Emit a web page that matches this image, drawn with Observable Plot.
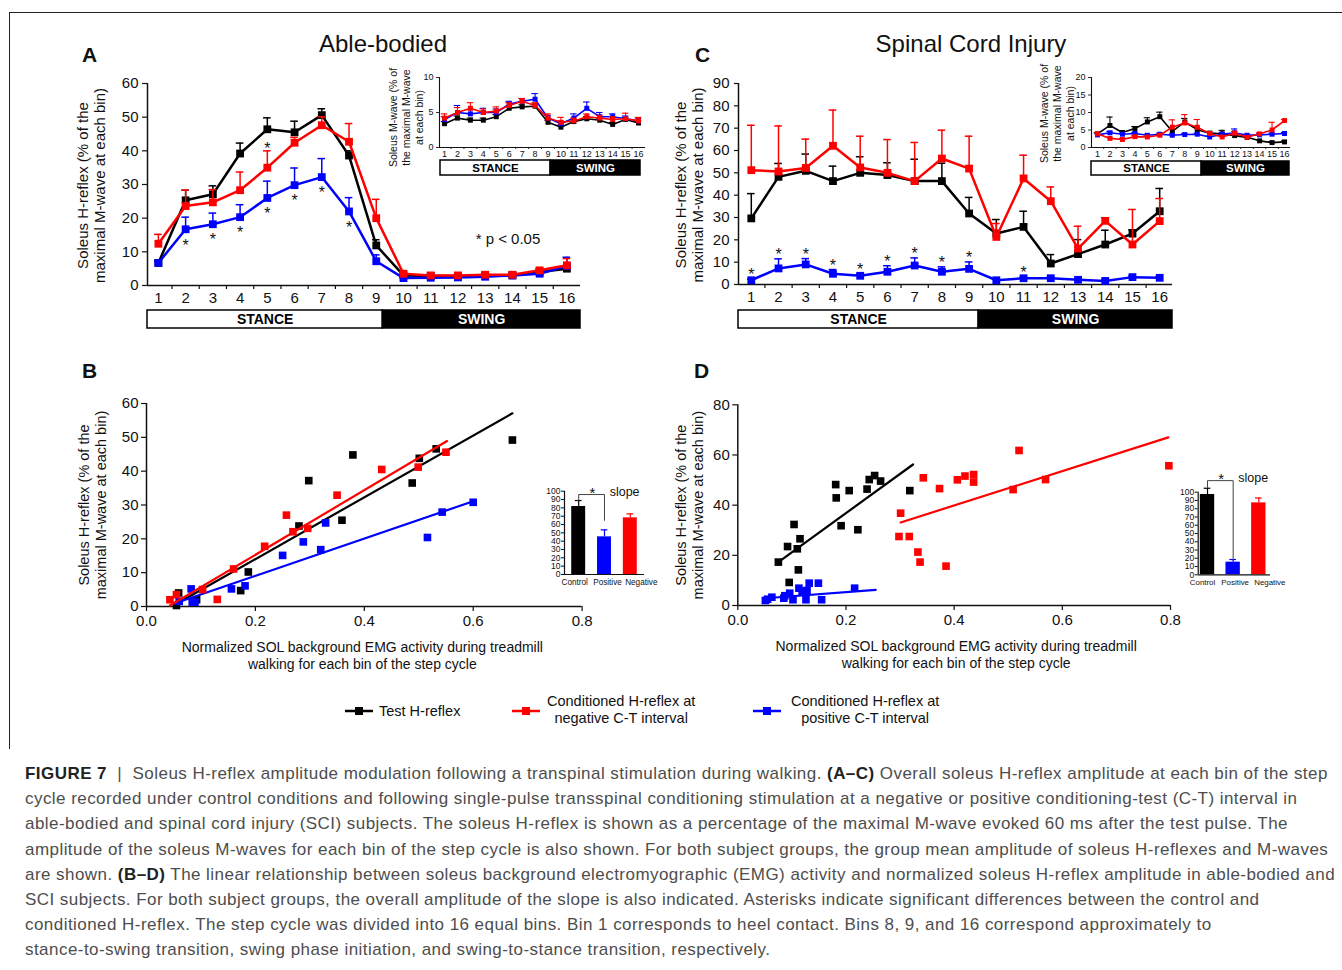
<!DOCTYPE html>
<html><head><meta charset="utf-8">
<script src="https://cdn.jsdelivr.net/npm/d3@7"></script>
<script src="https://cdn.jsdelivr.net/npm/@observablehq/plot@0.6"></script>
<style>
body{margin:0;background:#fff;}
#root{position:relative;width:1342px;height:970px;overflow:hidden;font-family:"Liberation Sans",Arial,Helvetica,sans-serif;color:#111;background:#fff;}
.title{position:absolute;font-size:24px;line-height:28px;text-align:center;width:300px;}
.letter{position:absolute;font-size:21px;font-weight:bold;line-height:24px;}
.leg{position:absolute;font-size:14.5px;line-height:17px;color:#111;}
#cap{position:absolute;left:25px;top:761px;font-size:17px;letter-spacing:0.45px;line-height:25.2px;color:#4d4d4d;white-space:nowrap;}
#cap b{color:#222;}
#frame{position:absolute;left:9px;top:12px;width:1340px;height:736px;border-top:1.5px solid #222;border-left:1.5px solid #222;}
</style></head>
<body><div id="root"><div id="frame"></div></div>
<script>
// ---------------- DATA ----------------
const bins = [1,2,3,4,5,6,7,8,9,10,11,12,13,14,15,16];
const phaseNames = ["STANCE","SWING"];

// Panel A: able-bodied H-reflex (% of max M-wave), mean and SEM
const abTest    = [6.7,25.3,27.1,39.2,46.4,45.5,50.6,38.6,11.9,3.0,2.8,2.8,3.0,3.0,4.0,5.0];
const abTestSem = [0.6,3.0,2.5,3.1,3.4,3.3,1.9,1.4,1.7,0.4,0.3,0.3,0.3,0.4,0.5,0.6];
const abNeg     = [12.4,23.6,24.7,28.3,35.0,42.4,47.6,42.7,20.0,3.5,3.0,3.0,3.2,3.2,4.5,6.0];
const abNegSem  = [2.8,4.7,3.8,5.4,5.0,1.6,2.5,5.4,5.6,0.4,0.3,0.3,0.3,0.3,0.6,2.0];
const abPos     = [6.7,16.7,18.2,20.3,26.0,29.8,32.2,22.0,7.2,2.2,2.3,2.4,2.6,3.0,3.5,5.8];
const abPosSem  = [0.4,3.6,3.3,3.7,5.0,5.1,5.5,4.1,1.9,0.3,0.3,0.3,0.3,0.3,0.5,2.6];
const abSigPos  = [2,3,4,5,6,7,8];
const abSigNeg  = [5];

// Panel A inset: M-wave
const abTestM    = [3.4,4.2,3.9,3.9,4.4,5.6,5.8,5.9,3.6,2.9,3.7,4.1,3.9,3.3,4.0,3.5];
const abTestMSem = [0.3,0.3,0.3,0.3,0.3,0.3,0.3,0.3,0.3,0.3,0.3,0.3,0.3,0.3,0.3,0.3];
const abNegM     = [4.2,5.0,5.6,5.0,5.2,6.0,6.6,6.0,4.2,3.6,3.8,4.4,4.2,4.0,4.1,3.8];
const abNegMSem  = [0.6,0.7,0.8,0.5,0.6,0.4,0.4,0.4,0.6,0.7,0.4,0.4,0.4,0.4,0.8,0.5];
const abPosM     = [4.0,5.0,4.8,5.0,5.0,6.2,6.6,6.9,4.2,3.4,4.2,5.6,4.4,4.4,4.1,3.8];
const abPosMSem  = [0.4,1.0,0.6,0.6,0.5,0.4,0.4,0.8,0.4,0.4,0.6,0.9,0.6,0.4,0.4,0.4];

// Panel C: SCI H-reflex
const sciTest    = [29.6,48.2,50.9,46.3,50.0,49.0,46.3,46.3,31.8,22.8,25.8,9.4,13.6,17.9,22.8,32.8];
const sciTestSem = [11.1,6.0,7.5,6.7,7.2,5.5,9.8,8.0,7.2,6.3,7.0,4.0,6.5,6.4,1.7,10.2];
const sciNeg     = [51.2,50.6,52.2,62.1,52.4,50.0,46.3,56.4,51.9,21.3,47.5,37.3,16.1,28.5,17.9,28.4];
const sciNegSem  = [20.1,20.4,12.9,16.0,14.0,14.9,17.3,12.7,14.5,6.0,10.4,6.4,10.0,1.4,15.7,10.1];
const sciPos     = [1.9,7.2,9.0,4.8,3.9,5.7,8.5,5.7,7.0,1.9,2.8,2.8,2.1,1.6,3.3,3.0];
const sciPosSem  = [0.5,4.3,2.6,1.9,0.8,2.7,3.4,2.2,3.1,0.4,0.5,0.5,0.4,0.4,0.5,0.5];
const sciSigPos  = [1,2,3,4,5,6,7,8,9,11];

// Panel C inset: M-wave
const sciTestM    = [3.9,6.3,4.3,5.4,7.3,8.8,4.6,7.3,5.1,4.1,3.9,3.4,2.9,1.9,1.4,1.6];
const sciTestMSem = [0.4,2.4,0.5,0.6,1.2,1.3,0.6,1.0,0.8,0.5,1.0,0.5,0.4,0.3,0.3,0.3];
const sciPosM     = [3.6,4.2,3.8,4.0,3.5,3.8,3.5,3.7,3.8,3.0,3.8,4.2,3.5,3.6,3.8,4.0];
const sciPosMSem  = [0.3,0.4,0.3,0.3,0.3,0.3,0.3,0.3,0.3,0.3,0.4,1.1,0.3,0.3,0.3,0.3];
const sciNegM     = [3.9,2.6,2.3,3.1,3.0,3.5,5.8,7.0,5.8,4.0,3.0,4.1,2.9,3.9,5.0,7.7];
const sciNegMSem  = [0.3,0.3,0.3,0.3,0.3,0.3,2.1,2.4,2.2,0.4,0.3,0.5,0.3,0.3,2.2,0.3];

// bin at which swing begins on each stance/swing bar
const swingStartA = 9.24, swingStartC = 9.35, swingStartInsetA = 9.38, swingStartInsetC = 9.4;

// Panel B scatter (able-bodied)
const bTestX = [0.055,0.059,0.092,0.173,0.187,0.280,0.298,0.359,0.379,0.488,0.501,0.532,0.672];
const bTestY = [0.3,4.0,2.0,4.7,10.2,23.8,37.2,25.5,44.8,36.5,43.8,46.6,49.2];
const bNegX  = [0.043,0.055,0.103,0.130,0.160,0.217,0.257,0.269,0.296,0.350,0.432,0.499,0.550];
const bNegY  = [2.0,3.5,5.0,2.1,11.1,17.8,27.0,22.1,23.1,32.9,40.5,41.2,45.6];
const bPosX  = [0.060,0.082,0.084,0.089,0.156,0.181,0.250,0.288,0.320,0.329,0.516,0.543,0.600];
const bPosY  = [1.5,5.2,1.3,1.3,5.2,6.1,15.1,19.1,16.8,24.7,20.4,27.9,30.8];
const bTestFitX = [0.052,0.672], bTestFitY = [0.5,57.1];
const bNegFitX  = [0.043,0.552], bNegFitY  = [0.3,48.9];
const bPosFitX  = [0.050,0.600], bPosFitY  = [0.8,31.1];

// Panel D scatter (SCI)
const dTestX = [0.075,0.092,0.104,0.110,0.115,0.112,0.095,0.181,0.182,0.191,0.206,0.222,0.239,0.243,0.253,0.264,0.318];
const dTestY = [17.3,23.5,32.3,22.6,26.6,14.2,9.2,48.2,42.9,31.8,45.8,30.2,46.4,50.2,51.8,49.6,45.8];
const dNegX  = [0.298,0.301,0.317,0.333,0.337,0.343,0.373,0.385,0.406,0.420,0.436,0.436,0.509,0.520,0.569,0.797];
const dNegY  = [27.5,36.8,27.5,21.3,17.3,50.9,46.6,15.7,50.1,51.6,52.2,49.2,46.2,61.8,50.2,55.7];
const dPosX  = [0.051,0.055,0.063,0.085,0.087,0.096,0.102,0.113,0.119,0.126,0.128,0.126,0.132,0.149,0.155,0.216];
const dPosY  = [2.0,2.5,3.3,2.9,3.9,4.9,2.3,6.9,5.7,5.2,6.0,2.3,8.9,8.9,2.3,6.9];
const dTestFitX = [0.075,0.324], dTestFitY = [17.3,56.2];
const dNegFitX  = [0.301,0.796], dNegFitY  = [33.1,67.0];
const dPosFitX  = [0.051,0.255], dPosFitY  = [2.9,6.2];

// slope bar insets
const slopeCats = ["Control","Positive","Negative"];
const bSlope = [81.6,45.2,68.0], bSlopeSem = [7.2,8.4,4.8];
const dSlope = [97.2,15.3,87.1], dSlopeSem = [7.6,3.2,5.9];

// ---------------- HELPERS ----------------
const BLACK = "#000000", RED = "#ff0000", BLUE = "#0000ff";
const slopeColors = [BLACK, BLUE, RED];
const FONT = "'Liberation Sans', Arial, Helvetica, sans-serif";
const root = document.getElementById("root");
function put(node, left, top){ node.style.position="absolute"; node.style.left=left+"px"; node.style.top=top+"px"; root.appendChild(node); return node; }
function sty(fs){ return {fontFamily:FONT, fontSize:fs+"px", color:"#111", background:"none", overflow:"visible"}; }
const rowsOf = (v,e) => bins.map((b,i)=>({bin:b, v:v[i], e:e[i]}));
const ptsOf = (xs,ys) => xs.map((x,i)=>({x, y:ys[i]}));
const halfBins = bins.slice(1).map(b=>b-0.5);

function seriesMarks(rows, color, o){
  return [
    Plot.ruleX(rows,{x:"bin", y1:"v", y2:d=>d.v+d.e, stroke:color, strokeWidth:o.ew}),
    Plot.ruleY(rows,{y:d=>d.v+d.e, x1:d=>d.bin-o.cap, x2:d=>d.bin+o.cap, stroke:color, strokeWidth:o.ew}),
    Plot.line(rows,{x:"bin", y:"v", stroke:color, strokeWidth:o.lw}),
    Plot.dot(rows,{x:"bin", y:"v", symbol:"square", r:o.r, fill:color})
  ];
}

function yLabel(text, dx, dy, fs, lh){
  return Plot.text([text],{frameAnchor:"left", textAnchor:"middle", lineAnchor:"middle", dx, dy, rotate:-90, text:d=>d, fontSize:fs, lineHeight:lh});
}

function binChart(c){
  const marks = [
    Plot.ruleY([c.ydom[0]],{strokeWidth:c.axw}),
    Plot.ruleX([c.xdom[0]],{strokeWidth:c.axw}),
    Plot.axisY({ticks:c.yticks, tickSize:c.tsz, tickPadding:c.tpy, tickFormat:d=>d, strokeWidth:c.axw*0.8, label:null}),
    Plot.axisX({ticks:halfBins, tickSize:c.htsz, tickFormat:()=>"", strokeWidth:c.axw*0.8, label:null}),
    Plot.axisX({ticks:bins, tickSize:0, tickPadding:c.tpx, tickFormat:d=>d, label:null}),
    yLabel(c.ylabel, c.ldx, c.ldy||0, c.lfs, c.llh),
    ...c.series.flatMap(s=>seriesMarks(rowsOf(s.v,s.e), s.color, c.sm)),
    ...(c.extra||[])
  ];
  return Plot.plot({width:c.w, height:c.h, marginLeft:c.ml, marginRight:c.mr, marginTop:c.mt, marginBottom:c.mb,
    x:{domain:c.xdom}, y:{domain:c.ydom}, style:sty(c.fs), marks});
}

function phaseBar(c){
  const rows = [{name:phaseNames[0], x1:c.xdom[0], x2:c.split},{name:phaseNames[1], x1:c.split, x2:c.xdom[1]}];
  return Plot.plot({width:c.w, height:c.h, marginLeft:c.ml, marginRight:c.mr, marginTop:1, marginBottom:1,
    x:{domain:c.xdom, axis:null}, y:{domain:[0,1], axis:null}, style:sty(c.fs),
    marks:[
      Plot.rect(rows.slice(0,1),{x1:"x1", x2:"x2", y1:0, y2:1, fill:"white", stroke:"black", strokeWidth:1.5}),
      Plot.rect(rows.slice(1),{x1:"x1", x2:"x2", y1:0, y2:1, fill:"black", stroke:"black", strokeWidth:1.5}),
      Plot.text(rows.slice(0,1),{x:d=>(d.x1+d.x2)/2, y:0.5, text:"name", fill:"black", fontWeight:"bold"}),
      Plot.text(rows.slice(1),{x:d=>(d.x1+d.x2)/2, y:0.5, text:"name", fill:"white", fontWeight:"bold"})
    ]});
}

function scatter(c){
  const marks = [
    Plot.ruleY([0],{strokeWidth:1.5}),
    Plot.ruleX([0],{strokeWidth:1.5}),
    Plot.axisY({ticks:c.yticks, tickSize:5, tickPadding:3, tickFormat:d=>d, strokeWidth:1.2, label:null}),
    Plot.axisX({ticks:[0,0.2,0.4,0.6,0.8], tickSize:5, tickPadding:4, tickFormat:d3.format(".1f"), strokeWidth:1.2, label:null}),
    yLabel(c.ylabel, c.ldx, 0, 14.5, 1.15),
    Plot.text([c.xlabel],{frameAnchor:"bottom", textAnchor:"middle", lineAnchor:"middle", dx:c.xldx, dy:48.5, text:d=>d, fontSize:14, lineHeight:1.2}),
    ...c.series.flatMap(s=>[
      Plot.line(ptsOf(s.fx,s.fy),{x:"x", y:"y", stroke:s.color, strokeWidth:2.2}),
      Plot.dot(ptsOf(s.x,s.y),{x:"x", y:"y", symbol:"square", r:4.3, fill:s.color})
    ])
  ];
  return Plot.plot({width:c.w, height:c.h, marginLeft:c.ml, marginRight:c.mr, marginTop:c.mt, marginBottom:c.mb,
    x:{domain:[0,0.8]}, y:{domain:c.ydom}, style:sty(15), marks});
}

function slopeBars(c){
  const rows = slopeCats.map((k,i)=>({k, i:i+1, v:c.v[i], e:c.e[i], color:slopeColors[i]}));
  const hw = c.hw;
  return Plot.plot({width:c.w, height:c.h, marginLeft:c.ml, marginRight:c.mr, marginTop:c.mt, marginBottom:c.mb,
    x:{domain:c.xdom, axis:null}, y:{domain:[0,100]}, style:sty(8.5),
    marks:[
      ...rows.map(r=>Plot.rectY([r],{x1:d=>d.i-hw, x2:d=>d.i+hw, y1:0, y2:"v", fill:r.color})),
      ...rows.map(r=>Plot.ruleX([r],{x:"i", y1:"v", y2:d=>d.v+d.e, stroke:r.color, strokeWidth:1.2})),
      ...rows.map(r=>Plot.ruleY([r],{y:d=>d.v+d.e, x1:d=>d.i-0.13, x2:d=>d.i+0.13, stroke:r.color, strokeWidth:1.2})),
      Plot.ruleY([0],{strokeWidth:1.2}),
      Plot.ruleX([c.xdom[0]],{strokeWidth:1.2}),
      Plot.axisY({ticks:[0,10,20,30,40,50,60,70,80,90,100], tickSize:3, tickPadding:1, tickFormat:d=>d, fontSize:8.5, label:null}),
      ...rows.map((r,j)=>Plot.text([r],{x:"i", y:0, text:"k", dy:c.labdy, dx:c.labdx[j], fontSize:c.labfs, lineAnchor:"top"})),
      Plot.line(c.bracket,{x:"i", y:"v", stroke:"#444", strokeWidth:1}),
      Plot.text(["*"],{x:1.53, y:c.bracket[1].v+7, text:d=>d, fontSize:15, dy:4}),
      Plot.text(["slope"],{x:2.2, y:c.bracket[1].v+3, text:d=>d, fontSize:12.5, textAnchor:"start"})
    ]});
}

// ---------------- PANEL A ----------------
const sm = {ew:1.5, cap:0.14, lw:2.5, r:4.4};
const smi = {ew:1.1, cap:0.25, lw:1.6, r:2.8};
const hLabel = "Soleus H-reflex (% of the\nmaximal M-wave at each bin)";
const mLabel = "Soleus M-wave (% of\nthe maximal M-wave\nat each bin)";

const abPosRows = rowsOf(abPos, abPosSem), abNegRows = rowsOf(abNeg, abNegSem);
put(binChart({w:530, h:237, ml:87, mr:10, mt:10, mb:25, xdom:[0.6,16.5], ydom:[0,60], yticks:[0,10,20,30,40,50,60],
  tsz:5, tpy:4, htsz:4, tpx:7, axw:1.5, fs:15, ldx:-56, ldy:1, lfs:15, llh:1.13, ylabel:hLabel, sm,
  series:[{v:abTest,e:abTestSem,color:BLACK},{v:abPos,e:abPosSem,color:BLUE},{v:abNeg,e:abNegSem,color:RED}],
  extra:[
    Plot.text(abPosRows.filter(d=>abSigPos.includes(d.bin)),{x:"bin", y:d=>d.v-3.6, text:d=>"*", fontSize:16, dy:4}),
    Plot.text(abNegRows.filter(d=>abSigNeg.includes(d.bin)),{x:"bin", y:d=>d.v+d.e+1.7, text:d=>"*", fontSize:16, dy:4}),
    Plot.text(["* p < 0.05"],{x:12.65, y:13.9, text:d=>d, textAnchor:"start", fontSize:15})
  ]}), 60, 73);
put(phaseBar({w:530, h:20, ml:87, mr:10, xdom:[0.6,16.5], split:swingStartA, fs:14}), 60, 309);

// inset A
put(binChart({w:268, h:95, ml:59, mr:3, mt:9, mb:16, xdom:[0.61,16.54], ydom:[0,10], yticks:[0,5,10],
  tsz:3, tpy:3, htsz:2, tpx:3, axw:1.1, fs:9, ldx:-34, ldy:5, lfs:10.5, llh:1.25, ylabel:mLabel, sm:smi,
  series:[{v:abTestM,e:abTestMSem,color:BLACK},{v:abPosM,e:abPosMSem,color:BLUE},{v:abNegM,e:abNegMSem,color:RED}]}), 380, 68);
put(phaseBar({w:268, h:17, ml:60, mr:8, xdom:[0.61,16.54], split:swingStartInsetA, fs:11.5}), 380, 159);

// ---------------- PANEL C ----------------
const sciPosRows = rowsOf(sciPos, sciPosSem);
put(binChart({w:530, h:237, ml:88, mr:8, mt:10, mb:26, xdom:[0.53,16.47], ydom:[0,90], yticks:[0,10,20,30,40,50,60,70,80,90],
  tsz:4, tpy:5, htsz:4, tpx:7, axw:1.5, fs:15, ldx:-49.5, ldy:1, lfs:15, llh:1.13, ylabel:hLabel, sm,
  series:[{v:sciTest,e:sciTestSem,color:BLACK},{v:sciPos,e:sciPosSem,color:BLUE},{v:sciNeg,e:sciNegSem,color:RED}],
  extra:[
    Plot.text(sciPosRows.filter(d=>sciSigPos.includes(d.bin)),{x:"bin", y:d=>d.v+d.e+3.6, text:d=>"*", fontSize:16, dy:4})
  ]}), 650, 73);
put(phaseBar({w:530, h:20, ml:88, mr:8, xdom:[0.53,16.47], split:swingStartC, fs:14}), 650, 309);

// inset C
put(binChart({w:265, h:95, ml:61, mr:5, mt:9, mb:16, xdom:[0.52,16.48], ydom:[0,20], yticks:[0,5,10,15,20],
  tsz:3, tpy:3, htsz:2, tpx:3, axw:1.1, fs:9, ldx:-35, ldy:1, lfs:10.5, llh:1.25, ylabel:mLabel, sm:smi,
  series:[{v:sciTestM,e:sciTestMSem,color:BLACK},{v:sciPosM,e:sciPosMSem,color:BLUE},{v:sciNegM,e:sciNegMSem,color:RED}]}), 1030, 68);
put(phaseBar({w:265, h:16, ml:61, mr:6, xdom:[0.52,16.48], split:swingStartInsetC, fs:11.5}), 1030, 160);

// ---------------- PANEL B ----------------
const xLabel = "Normalized SOL background EMG activity during treadmill\nwalking for each bin of the step cycle";
put(scatter({w:530, h:279, ml:86, mr:8.4, mt:10, mb:66, ydom:[0,60], yticks:[0,10,20,30,40,50,60],
  ldx:-54.5, xldx:-2, ylabel:hLabel, xlabel:xLabel,
  series:[
    {x:bTestX,y:bTestY,fx:bTestFitX,fy:bTestFitY,color:BLACK},
    {x:bPosX,y:bPosY,fx:bPosFitX,fy:bPosFitY,color:BLUE},
    {x:bNegX,y:bNegY,fx:bNegFitX,fy:bNegFitY,color:RED}
  ]}), 60, 393);
put(slopeBars({w:120, h:115, ml:34, mr:6, mt:10.7, mb:21, xdom:[0.45,3.55], hw:0.27, v:bSlope, e:bSlopeSem,
  labdy:5, labdx:[-4,3,11], labfs:8.2,
  bracket:[{i:1,v:89},{i:1,v:96},{i:2,v:96},{i:2,v:65}]}), 530, 480);

// ---------------- PANEL D ----------------
put(scatter({w:530, h:280, ml:87.3, mr:10, mt:10.3, mb:69, ydom:[0,80], yticks:[0,20,40,60,80],
  ldx:-48.8, xldx:2, ylabel:hLabel, xlabel:xLabel,
  series:[
    {x:dTestX,y:dTestY,fx:dTestFitX,fy:dTestFitY,color:BLACK},
    {x:dPosX,y:dPosY,fx:dPosFitX,fy:dPosFitY,color:BLUE},
    {x:dNegX,y:dNegY,fx:dNegFitX,fy:dNegFitY,color:RED}
  ]}), 650, 394);
put(slopeBars({w:120, h:130, ml:37.7, mr:10, mt:26.7, mb:20.7, xdom:[0.637,3.456], hw:0.28, v:dSlope, e:dSlopeSem,
  labdy:5, labdx:[-5,2,11], labfs:7.9,
  bracket:[{i:1,v:106},{i:1,v:114},{i:2,v:114},{i:2,v:18}]}), 1160, 465);

// ---------------- TEXT ----------------
function div(cls, html, left, top){ const d=document.createElement("div"); d.className=cls; d.innerHTML=html; return put(d,left,top); }
div("title","Able-bodied",233,30);
div("title","Spinal Cord Injury",821,30);
div("letter","A",82,43);
div("letter","C",695,43);
div("letter","B",82,359);
div("letter","D",694,359);

function legMarker(color, left, top){
  const s = `<svg width="28" height="10"><line x1="0" y1="5" x2="28" y2="5" stroke="${color}" stroke-width="2.5"/><rect x="10" y="1" width="8" height="8" fill="${color}"/></svg>`;
  const d=document.createElement("div"); d.innerHTML=s; d.style.lineHeight="0"; return put(d,left,top);
}
legMarker(BLACK,345,706);
div("leg","Test H-reflex",379,703);
legMarker(RED,512,706);
const l2 = div("leg","Conditioned H-reflex at<br>negative C-T interval",547,693); l2.style.textAlign="center";
legMarker(BLUE,753,706);
const l3 = div("leg","Conditioned H-reflex at<br>positive C-T interval",791,693); l3.style.textAlign="center";

const cap = document.createElement("div"); cap.id="cap";
cap.innerHTML = [
 "<b>FIGURE 7</b> &nbsp;|&nbsp; Soleus H-reflex amplitude modulation following a transpinal stimulation during walking. <b>(A–C)</b> Overall soleus H-reflex amplitude at each bin of the step",
 "cycle recorded under control conditions and following single-pulse transspinal conditioning stimulation at a negative or positive conditioning-test (C-T) interval in",
 "able-bodied and spinal cord injury (SCI) subjects. The soleus H-reflex is shown as a percentage of the maximal M-wave evoked 60 ms after the test pulse. The",
 "amplitude of the soleus M-waves for each bin of the step cycle is also shown. For both subject groups, the group mean amplitude of soleus H-reflexes and M-waves",
 "are shown. <b>(B–D)</b> The linear relationship between soleus background electromyographic (EMG) activity and normalized soleus H-reflex amplitude in able-bodied and",
 "SCI subjects. For both subject groups, the overall amplitude of the slope is also indicated. Asterisks indicate significant differences between the control and",
 "conditioned H-reflex. The step cycle was divided into 16 equal bins. Bin 1 corresponds to heel contact. Bins 8, 9, and 16 correspond approximately to",
 "stance-to-swing transition, swing phase initiation, and swing-to-stance transition, respectively."
].join("<br>");
root.appendChild(cap);
</script>
</body></html>
